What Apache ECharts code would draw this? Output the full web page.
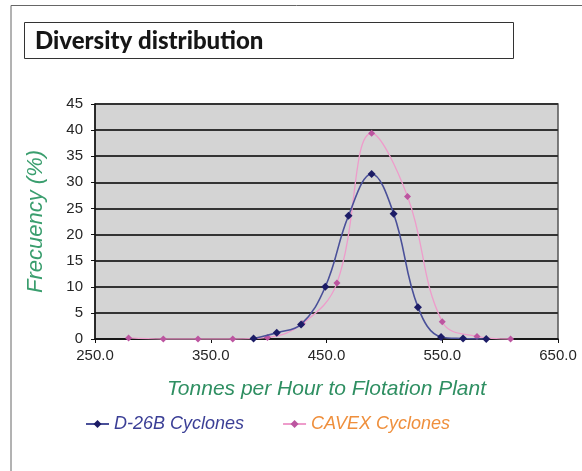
<!DOCTYPE html>
<html>
<head>
<meta charset="utf-8">
<script src="https://cdn.jsdelivr.net/npm/echarts@6/dist/echarts.min.js"></script>
<style>
html,body{margin:0;padding:0;background:#fff;}
#c{width:582px;height:471px;}
</style>
</head>
<body>
<div id="c"></div>
<script>
var titleText = 'Diversity distribution';
var xAxisName = 'Tonnes per Hour to Flotation Plant';
var yAxisName = 'Frecuency (%)';
var seriesNames = ['D-26B Cyclones', 'CAVEX Cyclones'];

var d26bX = [387, 407, 428, 449, 469, 489, 508, 529, 549, 568, 588];
var d26bY = [0.1, 1.2, 2.8, 10.0, 23.6, 31.6, 24.0, 6.1, 0.4, 0.1, 0];

var cavexX = [279, 309, 339, 369, 399, 429, 459, 489, 520, 550, 580, 609];
var cavexY = [0.2, 0, 0, 0, 0.3, 2.9, 10.7, 39.4, 27.3, 3.3, 0.5, 0];

function pairs(xs, ys) { return xs.map(function (x, i) { return [x, ys[i]]; }); }

var chart = echarts.init(document.getElementById('c'), null, {renderer: 'canvas'});
var tickFont = {fontFamily: 'Liberation Sans, Arial', fontSize: 15, color: '#262626'};

chart.setOption({
  animation: false,
  backgroundColor: '#fff',
  graphic: [
    {type: 'polyline', shape: {points: [[11, 471], [11, 5.5], [582, 5.5]]}, style: {stroke: '#666', lineWidth: 1, fill: null}, z: 0},
    {type: 'rect', shape: {x: 24.5, y: 22.5, width: 489, height: 36}, style: {stroke: '#333', lineWidth: 1, fill: '#fff'}, z: 0}
  ],
  title: {
    text: titleText,
    left: 30, top: 24,
    textStyle: {fontFamily: 'Lato, Open Sans, sans-serif', fontWeight: 900, fontSize: 24, color: '#161616'}
  },
  legend: {
    left: 80, top: 410,
    itemWidth: 23, itemHeight: 10, itemGap: 38,
    data: [
      {name: seriesNames[0], textStyle: {color: '#3b3f96'}},
      {name: seriesNames[1], textStyle: {color: '#ef8f3c'}}
    ],
    textStyle: {fontFamily: 'Liberation Sans, Arial', fontStyle: 'italic', fontSize: 18}
  },
  grid: {
    left: 95, right: 24, top: 104, bottom: 132,
    show: true, backgroundColor: '#d4d4d4', borderColor: '#555', borderWidth: 1.5
  },
  xAxis: {
    type: 'value', min: 250, max: 650, interval: 100,
    name: xAxisName, nameLocation: 'middle', nameGap: 40,
    nameTextStyle: {fontFamily: 'Liberation Sans, Arial', fontStyle: 'italic', fontSize: 21, color: '#2f8f62'},
    axisLine: {show: true, lineStyle: {color: '#111', width: 1.5}},
    axisTick: {show: true, length: 4, lineStyle: {color: '#111'}},
    axisLabel: Object.assign({margin: 9, formatter: function (v) { return v.toFixed(1); }}, tickFont),
    splitLine: {show: false}
  },
  yAxis: {
    type: 'value', min: 0, max: 45, interval: 5,
    name: yAxisName, nameLocation: 'middle', nameGap: 48,
    nameTextStyle: {fontFamily: 'Liberation Sans, Arial', fontStyle: 'italic', fontSize: 22, color: '#3a9e6e'},
    axisLine: {show: true, lineStyle: {color: '#111', width: 1.5}},
    axisTick: {show: true, length: 4, lineStyle: {color: '#111'}},
    axisLabel: Object.assign({margin: 12}, tickFont),
    splitLine: {show: true, lineStyle: {color: '#333', width: 2}}
  },
  series: [
    {
      name: seriesNames[0], type: 'line', smooth: 0.4,
      data: pairs(d26bX, d26bY),
      symbol: 'diamond', symbolSize: 8,
      lineStyle: {color: '#4a5099', width: 1.6},
      itemStyle: {color: '#1c1c66'},
      z: 3
    },
    {
      name: seriesNames[1], type: 'line', smooth: 0.4,
      data: pairs(cavexX, cavexY),
      symbol: 'diamond', symbolSize: 7,
      lineStyle: {color: '#ee9ccb', width: 1.3},
      itemStyle: {color: '#bc55a0'},
      z: 2
    }
  ]
});
</script>
</body>
</html>
